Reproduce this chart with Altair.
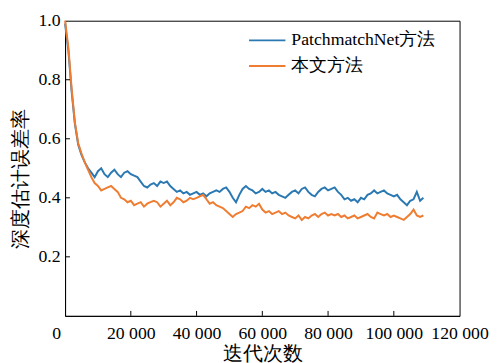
import altair as alt
import pandas as pd

iterations = list(range(0, 110000, 1000))

patchmatch = [
    0.99, 0.90, 0.76, 0.65, 0.58, 0.545, 0.52, 0.50, 0.485, 0.47,
    0.49, 0.50, 0.48, 0.47, 0.485, 0.495, 0.48, 0.47, 0.485, 0.49,
    0.48, 0.475, 0.47, 0.455, 0.44, 0.435, 0.445, 0.45, 0.44, 0.455,
    0.45, 0.455, 0.44, 0.43, 0.42, 0.425, 0.415, 0.42, 0.41, 0.415,
    0.42, 0.41, 0.415, 0.405, 0.415, 0.42, 0.425, 0.42, 0.43, 0.435,
    0.42, 0.40, 0.385, 0.41, 0.43, 0.44, 0.43, 0.425, 0.415, 0.42,
    0.43, 0.42, 0.425, 0.415, 0.42, 0.41, 0.405, 0.40, 0.41, 0.42,
    0.425, 0.415, 0.43, 0.435, 0.42, 0.41, 0.405, 0.42, 0.43, 0.435,
    0.425, 0.43, 0.435, 0.42, 0.41, 0.395, 0.40, 0.39, 0.395, 0.385,
    0.40, 0.395, 0.41, 0.415, 0.425, 0.415, 0.42, 0.425, 0.415, 0.41,
    0.405, 0.41, 0.395, 0.385, 0.375, 0.39, 0.395, 0.42, 0.39, 0.40,
]

ours = [
    1.00, 0.91, 0.77, 0.655, 0.585, 0.55, 0.52, 0.495, 0.47, 0.45,
    0.44, 0.425, 0.43, 0.435, 0.44, 0.43, 0.42, 0.40, 0.395, 0.385,
    0.39, 0.375, 0.38, 0.385, 0.37, 0.38, 0.385, 0.39, 0.385, 0.37,
    0.38, 0.39, 0.375, 0.385, 0.40, 0.395, 0.385, 0.39, 0.40, 0.395,
    0.40, 0.405, 0.41, 0.395, 0.38, 0.385, 0.375, 0.37, 0.365, 0.355,
    0.345, 0.335, 0.345, 0.35, 0.355, 0.37, 0.365, 0.375, 0.37, 0.38,
    0.36, 0.35, 0.355, 0.345, 0.35, 0.355, 0.345, 0.35, 0.34, 0.335,
    0.33, 0.34, 0.325, 0.335, 0.33, 0.34, 0.345, 0.335, 0.345, 0.35,
    0.34, 0.345, 0.34, 0.345, 0.335, 0.34, 0.33, 0.335, 0.34, 0.33,
    0.335, 0.34, 0.345, 0.335, 0.33, 0.35, 0.345, 0.34, 0.345, 0.335,
    0.34, 0.335, 0.33, 0.325, 0.335, 0.345, 0.36, 0.34, 0.335, 0.34,
]

series_names = ["PatchmatchNet方法", "本文方法"]
series_colors = ["#2b79b2", "#ef7d31"]

x_tick_values = [20000, 40000, 60000, 80000, 100000]
x_label_values = [0, 20000, 40000, 60000, 80000, 100000, 120000]
y_tick_values = [0.2, 0.4, 0.6, 0.8]
y_label_values = [0.2, 0.4, 0.6, 0.8, 1.0]

FONT = "Liberation Serif"

rows = []
for name, vals in zip(series_names, [patchmatch, ours]):
    for it, v in zip(iterations, vals):
        rows.append({"iter": it, "err": v, "series": name})
df = pd.DataFrame(rows)

x_scale = alt.Scale(domain=[0, 120000], nice=False, zero=False)
y_scale = alt.Scale(domain=[0, 1.0], nice=False)

lines = alt.Chart(df).mark_line(strokeWidth=2).encode(
    x=alt.X("iter:Q", scale=x_scale, title="迭代次数",
            axis=alt.Axis(values=x_label_values, ticks=False, grid=False,
                          labelExpr="datum.value == 0 ? '0' : format(datum.value / 1000, 'd') + ' 000'",
                          labelOffset={"condition": {"test": "datum.value == 0", "value": -9}, "value": 0},
                          labelFlush=False, labelOverlap=False, labelPadding=9,
                          titlePadding=1)),
    y=alt.Y("err:Q", scale=y_scale, title="深度估计误差率",
            axis=alt.Axis(values=y_label_values, format=".1f", ticks=False, grid=False,
                          labelFlush=False, labelOverlap=False, labelPadding=5,
                          titlePadding=8, titleY=160)),
    color=alt.Color("series:N", scale=alt.Scale(domain=series_names, range=series_colors),
                    legend=alt.Legend(title=None, orient="none", legendX=186, legendY=10,
                                      symbolType="stroke", symbolSize=1369, symbolStrokeWidth=2,
                                      labelOffset=5, clipHeight=20, rowPadding=6)),
)

xticks = alt.Chart(pd.DataFrame({"t": x_tick_values})).mark_rule(color="black", strokeWidth=1).encode(
    x=alt.X("t:Q", scale=x_scale), y=alt.value(300), y2=alt.value(295))

yticks = alt.Chart(pd.DataFrame({"t": y_tick_values})).mark_rule(color="black", strokeWidth=1).encode(
    y=alt.Y("t:Q", scale=y_scale), x=alt.value(0), x2=alt.value(5))

chart = alt.layer(lines, xticks, yticks).properties(
    width=401, height=300,
    background="white",
    autosize=alt.AutoSizeParams(type="none"),
    padding={"left": 58, "top": 10, "right": 35, "bottom": 45},
).configure(font=FONT).configure_view(
    stroke="black", strokeWidth=1
).configure_axis(
    labelFont=FONT, labelFontSize=18, labelColor="black",
    titleFont=FONT, titleFontSize=20, titleColor="black", titleFontWeight=300,
    domainColor="black", grid=False,
).configure_legend(
    labelFont=FONT, labelFontSize=18, labelColor="black",
)

chart.save("out.html", embed_options={"renderer": "svg", "actions": False})
